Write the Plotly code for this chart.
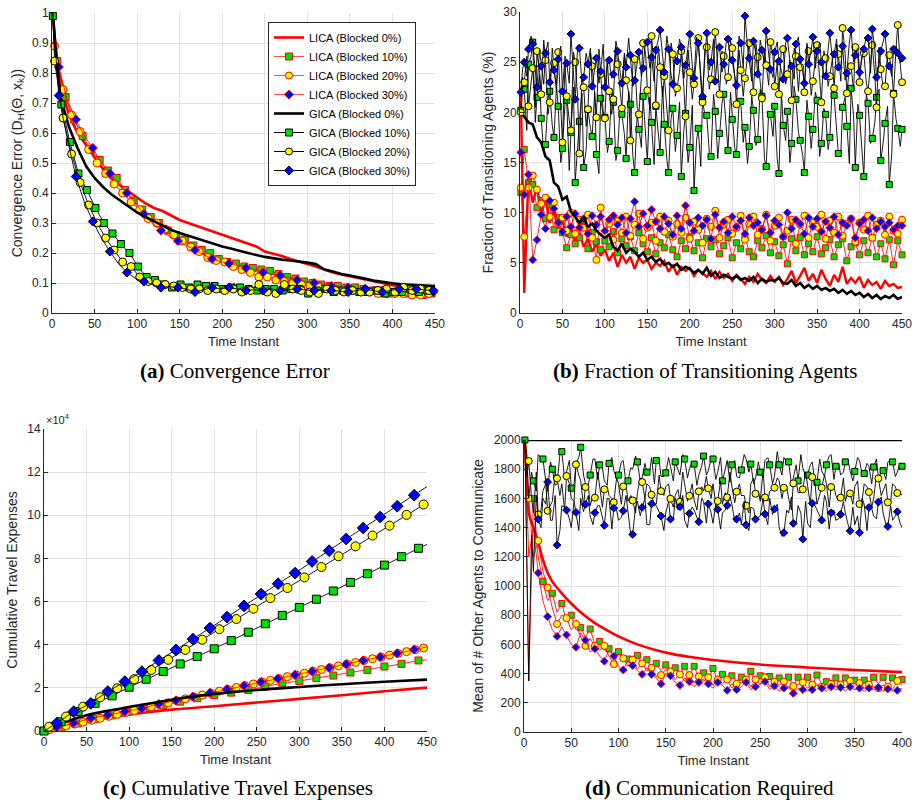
import plotly.graph_objects as go

# =================== DATA ===================
LEGEND_NAMES = ["LICA (Blocked 0%)", "LICA (Blocked 10%)", "LICA (Blocked 20%)", "LICA (Blocked 30%)",
                "GICA (Blocked 0%)", "GICA (Blocked 10%)", "GICA (Blocked 20%)", "GICA (Blocked 30%)"]

# ---- (a) Convergence Error ----
T_A_SMOOTH = [1, 5] + list(range(10, 451, 10))
A_LICA0 = [1.0, 0.85, 0.76, 0.66, 0.60, 0.56, 0.52, 0.48, 0.45, 0.425, 0.405, 0.385, 0.365, 0.35, 0.34,
           0.325, 0.31, 0.30, 0.29, 0.28, 0.27, 0.26, 0.25, 0.24, 0.232, 0.222, 0.205, 0.198, 0.19, 0.18,
           0.172, 0.165, 0.155, 0.145, 0.135, 0.128, 0.122, 0.116, 0.11, 0.103, 0.097, 0.092, 0.087,
           0.083, 0.082, 0.08, 0.08]
A_GICA0 = [1.0, 0.85, 0.72, 0.62, 0.55, 0.49, 0.45, 0.42, 0.395, 0.375, 0.355, 0.335, 0.32, 0.305, 0.29,
           0.277, 0.267, 0.258, 0.25, 0.24, 0.23, 0.222, 0.215, 0.207, 0.2, 0.193, 0.187, 0.182, 0.178,
           0.175, 0.172, 0.168, 0.163, 0.145, 0.138, 0.13, 0.125, 0.12, 0.113, 0.107, 0.102, 0.099,
           0.096, 0.095, 0.094, 0.093, 0.09]
T_A_G10 = list(range(1, 442, 10)) + [450]
A_GICA10 = [0.99, 0.695, 0.57, 0.465, 0.41, 0.35, 0.30, 0.265, 0.23, 0.20, 0.155, 0.12, 0.11, 0.095, 0.085,
            0.095, 0.085, 0.095, 0.09, 0.09, 0.08, 0.085, 0.085, 0.08, 0.075, 0.08, 0.08, 0.075, 0.08, 0.08,
            0.065, 0.075, 0.08, 0.07, 0.075, 0.075, 0.07, 0.07, 0.075, 0.065, 0.07, 0.07, 0.08, 0.07, 0.075,
            0.075]
T_A_G20 = [1] + list(range(3, 444, 10)) + [450]
A_GICA20 = [1.0, 0.84, 0.65, 0.53, 0.435, 0.36, 0.30, 0.25, 0.21, 0.17, 0.155, 0.12, 0.105, 0.10, 0.095,
            0.09, 0.085, 0.08, 0.08, 0.075, 0.08, 0.075, 0.08, 0.07, 0.075, 0.095, 0.07, 0.065, 0.095, 0.08,
            0.075, 0.07, 0.065, 0.08, 0.075, 0.07, 0.075, 0.07, 0.07, 0.075, 0.08, 0.07, 0.085, 0.075, 0.08,
            0.075, 0.075]
T_A_G30 = [1] + list(range(8, 449, 10))
A_GICA30 = [1.0, 0.725, 0.58, 0.455, 0.37, 0.305, 0.25, 0.205, 0.165, 0.135, 0.115, 0.105, 0.095, 0.085,
            0.088, 0.085, 0.08, 0.07, 0.078, 0.085, 0.08, 0.085, 0.08, 0.075, 0.078, 0.075, 0.08, 0.075,
            0.078, 0.08, 0.077, 0.075, 0.076, 0.075, 0.073, 0.07, 0.075, 0.08, 0.074, 0.07, 0.075, 0.08,
            0.077, 0.08, 0.077, 0.075]
T_A_L10 = [1] + list(range(6, 447, 10)) + [450]
A_LICA10 = [1.0, 0.84, 0.72, 0.645, 0.59, 0.545, 0.51, 0.475, 0.45, 0.41, 0.375, 0.345, 0.32, 0.30, 0.275,
            0.26, 0.245, 0.225, 0.21, 0.2, 0.18, 0.17, 0.165, 0.155, 0.15, 0.145, 0.14, 0.13, 0.12, 0.115,
            0.105, 0.10, 0.095, 0.09, 0.09, 0.085, 0.085, 0.08, 0.075, 0.075, 0.065, 0.07, 0.065, 0.065,
            0.06, 0.065, 0.065]
T_A_L20 = [1] + list(range(3, 444, 10)) + [450]
A_LICA20 = [1.0, 0.89, 0.745, 0.66, 0.605, 0.545, 0.50, 0.465, 0.43, 0.40, 0.37, 0.345, 0.315, 0.30, 0.28,
            0.26, 0.24, 0.22, 0.205, 0.185, 0.175, 0.17, 0.155, 0.145, 0.135, 0.12, 0.12, 0.11, 0.105, 0.10,
            0.095, 0.09, 0.09, 0.085, 0.08, 0.08, 0.075, 0.07, 0.07, 0.065, 0.065, 0.065, 0.065, 0.06, 0.06,
            0.065, 0.07]
T_A_L30 = [1] + list(range(8, 449, 10))
A_LICA30 = [1.0, 0.82, 0.71, 0.645, 0.59, 0.55, 0.50, 0.465, 0.43, 0.40, 0.365, 0.33, 0.30, 0.275, 0.255,
            0.24, 0.225, 0.21, 0.195, 0.18, 0.172, 0.165, 0.157, 0.15, 0.142, 0.135, 0.13, 0.125, 0.117,
            0.11, 0.105, 0.10, 0.095, 0.09, 0.087, 0.085, 0.082, 0.08, 0.077, 0.075, 0.075, 0.075, 0.072,
            0.07, 0.07, 0.07]

# ---- (b) Fraction of Transitioning Agents (%) ----
T_B = [1] + list(range(5, 451, 5))          # sampled instants (markers)
T_B_MID = list(range(3, 451, 5))            # in-between instants (line only)
B_LICA0 = [22.0, 2.0, 13.5, 11.0, 12.6, 9.8, 11.4, 9.0, 10.2, 8.4,
           9.3, 7.6, 8.5, 7.2, 8.0, 6.6, 7.4, 6.1, 6.9, 5.7,
           6.3, 5.2, 6.0, 4.6, 5.8, 5.0, 5.6, 4.4, 5.5, 5.0,
           5.3, 4.4, 5.0, 4.7, 5.2, 4.1, 4.8, 3.8, 4.6, 4.2,
           4.5, 3.7, 4.3, 4.0, 3.6, 4.2, 3.4, 4.1, 3.5, 3.9,
           3.2, 3.8, 3.4, 2.9, 3.6, 3.1, 3.9, 3.3, 3.0, 3.7,
           3.1, 3.6, 2.8, 3.4, 4.2, 3.0, 3.7, 4.5, 3.2, 3.9,
           3.0, 4.3, 3.4, 2.7, 3.8, 3.1, 4.6, 2.9, 3.5, 3.0,
           3.6, 2.5, 3.3, 2.8, 3.1, 2.4, 3.2, 2.7, 2.9, 2.5,
           2.6]
B_LICA10 = [12.0, 16.3, 13.0, 12.8, 10.5, 11.2, 9.4, 10.8, 8.3, 9.5,
            8.0, 6.5, 7.8, 6.9, 7.5, 9.2, 6.4, 8.0, 7.1, 6.3,
            7.2, 6.6, 8.1, 6.0, 7.4, 6.7, 7.6, 6.2, 8.0, 6.9,
            6.1, 7.5, 5.9, 7.0, 6.5, 7.8, 6.3, 5.6, 7.2, 6.4,
            7.6, 6.2, 7.0, 5.5, 7.4, 6.6, 7.3, 5.9, 6.7, 7.5,
            5.5, 7.0, 6.4, 7.6, 6.1, 5.6, 7.2, 6.5, 7.7, 6.0,
            7.1, 5.7, 6.8, 4.9, 7.4, 6.2, 7.5, 5.8, 6.9, 6.1,
            7.6, 5.9, 6.5, 7.3, 5.6, 6.8, 7.4, 5.2, 6.6, 7.0,
            5.8, 7.2, 6.0, 7.5, 5.6, 6.9, 5.4, 7.3, 4.8, 7.2,
            5.8]
B_LICA20 = [12.5, 7.6, 12.5, 13.7, 12.3, 10.9, 11.5, 9.6, 11.0, 8.9,
            9.5, 8.2, 10.0, 7.9, 9.3, 8.5, 9.8, 7.5, 5.3, 10.5,
            7.8, 8.9, 7.3, 9.2, 8.0, 9.6, 7.7, 8.8, 9.9, 7.4,
            8.5, 9.0, 7.2, 9.6, 8.1, 9.2, 7.6, 8.9, 8.0, 9.5,
            7.4, 9.1, 8.3, 7.0, 9.4, 8.6, 10.2, 7.5, 8.8, 9.3,
            7.9, 8.5, 9.7, 7.3, 8.9, 9.6, 7.8, 8.4, 9.8, 7.2,
            8.7, 9.5, 7.6, 8.2, 9.3, 6.9, 8.8, 9.7, 7.5, 9.0,
            8.6, 9.8, 7.4, 9.2, 8.0, 9.6, 7.7, 8.9, 9.4, 7.1,
            9.0, 8.3, 9.7, 7.5, 8.8, 9.2, 7.8, 9.6, 8.2, 7.9,
            9.3]
B_LICA30 = [16.0, 11.8, 13.8, 5.3, 7.3, 9.8, 8.4, 11.2, 10.4, 9.0,
            8.1, 9.6, 8.6, 9.9, 8.5, 9.4, 7.9, 9.7, 8.8, 9.6,
            8.2, 9.3, 9.7, 8.8, 9.5, 8.0, 9.4, 11.1, 8.6, 9.9,
            8.7, 10.3, 9.1, 8.4, 9.6, 8.9, 7.8, 9.7, 8.4, 10.7,
            9.0, 8.2, 9.5, 8.7, 9.3, 7.4, 9.8, 8.5, 9.1, 8.0,
            9.6, 8.6, 9.2, 7.9, 9.5, 8.7, 9.0, 8.3, 9.7, 8.0,
            9.2, 8.8, 7.6, 10.0, 8.4, 9.3, 8.9, 7.9, 9.5, 8.6,
            9.4, 8.1, 9.1, 8.5, 9.6, 7.8, 9.0, 8.7, 9.4, 7.5,
            8.9, 9.3, 8.2, 9.5, 8.4, 9.1, 8.6, 9.0, 8.3, 8.7,
            8.7]
B_GICA0 = [20.0, 19.5, 19.0, 18.8, 17.5, 17.0, 15.6, 15.2, 13.0, 12.6,
           11.3, 11.6, 10.1, 9.6, 9.0, 9.5, 8.6, 8.9, 8.2, 7.8,
           7.5, 7.8, 6.6, 6.2, 6.9, 6.0, 6.4, 6.1, 5.6, 6.0,
           5.3, 5.6, 5.1, 5.4, 4.8, 5.0, 4.6, 4.9, 4.3, 4.6,
           4.4, 4.0, 4.3, 3.9, 4.5, 3.7, 4.1, 3.5, 3.8, 3.6,
           3.4, 3.7, 3.3, 3.5, 3.2, 3.6, 3.0, 3.4, 3.1, 3.3,
           3.2, 3.5, 3.0, 2.9, 3.3, 2.7, 3.0, 2.5, 2.8, 2.4,
           2.7, 2.3, 2.5, 2.2, 2.4, 2.0, 2.3, 1.9, 2.2, 1.8,
           2.0, 1.6, 1.9, 1.5, 1.8, 1.4, 1.7, 1.5, 1.8, 1.4,
           1.6]
B_GICA10 = [20.2, 22.3, 24.8, 27.0, 21.5, 19.4, 16.8, 22.1, 17.5, 20.6,
            16.4, 21.2, 18.0, 13.0, 19.1, 14.5, 20.3, 17.6, 15.8, 21.4,
            19.5, 17.1, 21.0, 16.2, 19.8, 15.4, 20.8, 14.0, 18.3, 21.6,
            15.1, 19.0, 20.6, 16.0, 18.8, 14.0, 20.4, 17.7, 13.6, 19.9,
            16.5, 12.2, 18.4, 21.3, 19.7, 15.6, 20.1, 17.9, 21.8, 16.2,
            19.3, 15.8, 21.1, 18.5, 16.6, 20.2, 17.3, 21.6, 14.6, 19.8,
            20.6, 13.9, 18.7, 20.1, 16.9, 21.3, 17.2, 14.0, 19.6, 18.3,
            21.2, 16.9, 19.8, 17.5, 21.7, 15.9, 20.5, 18.6, 22.4, 14.5,
            19.7, 13.6, 20.9, 17.4, 21.5, 15.2, 18.9, 12.8, 21.9, 18.4,
            18.3]
B_GICA10_MID = [23.5, 18.2, 25.6, 19.0, 23.8, 15.9, 21.4, 18.7, 22.6, 15.0,
                20.8, 14.2, 22.5, 17.0, 21.9, 16.3, 18.4, 22.0, 13.9, 19.6,
                16.0, 22.4, 15.2, 20.6, 17.8, 22.1, 15.6, 19.8, 16.5, 17.3,
                21.5, 14.8, 18.0, 22.6, 15.3, 19.4, 16.1, 21.0, 18.2, 15.0,
                20.7, 17.2, 14.6, 19.5, 16.0, 21.8, 15.4, 20.9, 18.1, 22.0,
                16.4, 20.8, 17.0, 14.9, 21.6, 16.7, 22.3, 15.3, 20.1, 17.6,
                15.4, 21.9, 17.2, 15.0, 22.6, 18.0, 15.7, 21.2, 16.4, 22.0,
                15.6, 20.4, 16.3, 22.8, 18.4, 16.0, 21.5, 14.9, 19.6, 20.8,
                15.3, 21.8, 16.9, 19.0, 22.3, 17.1, 20.6, 15.9, 19.3, 16.6]
B_GICA20 = [20.0, 23.0, 20.6, 24.4, 26.1, 21.8, 25.2, 21.0, 24.9, 26.0,
            17.0, 21.6, 18.2, 25.0, 15.9, 22.5, 20.3, 24.6, 19.5, 23.8,
            19.4, 22.1, 21.3, 24.8, 20.4, 23.2, 17.2, 25.3, 19.8, 26.9,
            22.2, 27.6, 20.7, 24.5, 23.6, 18.2, 25.8, 22.4, 26.1, 19.6,
            24.0, 22.8, 27.4, 21.0, 26.5, 23.3, 28.0, 21.8, 25.6, 23.5,
            26.4, 20.8, 24.2, 23.4, 26.9, 22.0, 25.5, 21.4, 24.7, 27.0,
            22.6, 21.8, 26.3, 23.8, 21.2, 25.6, 24.5, 22.0, 26.1, 23.1,
            26.7, 21.0, 25.4, 23.6, 22.4, 25.8, 28.4, 21.9, 24.6, 26.5,
            23.0, 25.9, 22.1, 26.7, 20.5, 24.3, 22.6, 25.7, 21.8, 28.7,
            23.0]
B_GICA20_MID = [22.4, 25.6, 23.1, 20.5, 24.0, 27.2, 19.8, 26.4, 22.0, 20.9,
                24.8, 19.2, 26.0, 21.4, 23.7, 18.6, 25.9, 21.8, 26.3, 20.1,
                25.1, 19.8, 26.5, 21.6, 25.7, 22.0, 24.9, 20.6, 23.5, 25.8,
                20.3, 24.4, 26.6, 21.5, 19.8, 26.9, 21.6, 24.1, 22.5, 26.2,
                21.3, 25.9, 23.0, 26.8, 22.3, 25.4, 24.6, 26.1, 22.8, 27.1,
                23.5, 26.2, 21.6, 25.7, 24.1, 26.8, 23.0, 26.3, 22.7, 25.6,
                24.9, 26.6, 22.8, 25.2, 26.4, 22.1, 24.7, 26.9, 21.7, 25.0,
                23.4, 26.1, 22.6, 25.3, 26.8, 23.1, 25.9, 24.4, 22.2, 25.5,
                26.2, 22.9, 25.0, 23.6, 26.5, 22.3, 25.8, 24.0, 26.4, 24.7]
B_GICA30 = [22.0, 25.0, 26.3, 26.8, 22.5, 24.6, 25.9, 23.0, 24.2, 25.3,
            22.1, 24.9, 27.8, 21.3, 26.4, 23.5, 24.8, 22.6, 25.4, 24.1,
            22.5, 25.2, 23.8, 26.1, 22.9, 24.5, 25.7, 23.2, 26.0, 24.4,
            27.0, 25.5, 26.2, 28.2, 24.0, 26.3, 22.8, 25.1, 26.5, 24.7,
            27.8, 23.4, 26.9, 21.6, 27.9, 25.0, 23.1, 26.5, 24.8, 27.3,
            25.2, 22.7, 26.9, 29.6, 25.4, 27.1, 23.8, 26.2, 28.1, 24.3,
            26.0, 25.1, 23.3, 27.4, 24.6, 26.8, 25.3, 22.9, 24.8, 27.5,
            26.1, 25.0, 23.6, 27.9, 25.8, 24.5, 26.6, 23.9, 28.2, 25.7,
            24.0, 26.3, 27.4, 28.3, 23.5, 26.1, 27.8, 24.6, 26.3, 25.9,
            25.4]
B_GICA30_MID = [24.3, 23.6, 27.6, 24.0, 26.2, 22.8, 27.0, 25.1, 22.7, 26.6,
                25.6, 22.9, 24.2, 26.7, 23.0, 25.9, 26.4, 24.3, 22.9, 26.8,
                25.3, 23.4, 27.1, 24.0, 25.9, 27.4, 22.6, 25.0, 23.6, 27.2,
                24.4, 23.1, 27.3, 25.6, 27.6, 23.7, 25.6, 27.3, 23.4, 26.9,
                24.6, 27.5, 23.8, 25.8, 24.2, 27.3, 26.0, 24.0, 27.0, 25.1,
                23.6, 27.6, 24.5, 26.6, 23.1, 25.8, 27.2, 24.9, 26.0, 23.5,
                27.0, 24.1, 26.9, 25.0, 23.3, 27.5, 24.2, 26.6, 26.2, 24.4,
                26.9, 23.8, 26.3, 25.2, 27.3, 24.7, 23.2, 27.0, 25.0, 26.4,
                25.4, 27.6, 23.9, 26.3, 24.7, 27.2, 25.0, 23.6, 26.6, 24.9]

# ---- (c) Cumulative Travel Expenses (in units of 10^4) ----
T_C_SMOOTH = [0, 25, 50, 75, 100, 150, 200, 250, 300, 350, 400, 450]
C_LICA0 = [0, 0.23, 0.42, 0.61, 0.77, 0.99, 1.15, 1.32, 1.49, 1.66, 1.84, 2.01]
C_GICA0 = [0, 0.42, 0.73, 0.94, 1.11, 1.45, 1.72, 1.9, 2.04, 2.17, 2.28, 2.38]
T_C_G10 = list(range(0, 441, 20)) + [450]
C_GICA10 = [0, 0.43, 0.9, 1.28, 1.63, 2.03, 2.4, 2.76, 3.11, 3.45, 3.81, 4.19, 4.58, 4.97, 5.36, 5.73,
            6.11, 6.49, 6.89, 7.29, 7.69, 8.08, 8.47, 8.65]
T_C_G20 = [0] + list(range(6, 447, 20)) + [450]
C_GICA20 = [0, 0.2, 0.67, 1.13, 1.56, 1.98, 2.4, 2.83, 3.3, 3.76, 4.23, 4.72, 5.19, 5.67, 6.16, 6.63,
            7.12, 7.6, 8.1, 8.56, 9.06, 9.52, 10.02, 10.5, 10.58]
T_C_G30 = [0] + list(range(15, 436, 20)) + [450]
C_GICA30 = [0, 0.36, 0.9, 1.28, 1.83, 2.29, 2.75, 3.27, 3.76, 4.26, 4.77, 5.28, 5.8, 6.35, 6.83, 7.32,
            7.86, 8.36, 8.9, 9.41, 9.92, 10.42, 10.93, 11.33]
T_C_L10 = list(range(0, 441, 20)) + [450]
C_LICA10 = [0, 0.15, 0.35, 0.55, 0.72, 0.9, 1.07, 1.21, 1.36, 1.52, 1.67, 1.78, 1.9, 2.06, 2.21, 2.32,
            2.45, 2.57, 2.71, 2.83, 2.99, 3.11, 3.27, 3.3]
T_C_L20 = [0] + list(range(6, 447, 10)) + [450]
C_LICA20 = [0, 0.06, 0.15, 0.24, 0.32, 0.41, 0.5, 0.59, 0.68, 0.77, 0.86, 0.95, 1.04, 1.13, 1.22, 1.31,
            1.4, 1.49, 1.58, 1.67, 1.76, 1.85, 1.93, 2.02, 2.1, 2.18, 2.27, 2.35, 2.43, 2.52, 2.6, 2.68,
            2.77, 2.85, 2.93, 3.02, 3.1, 3.18, 3.27, 3.35, 3.43, 3.52, 3.6, 3.68, 3.77, 3.85, 3.88]
T_C_L30 = [0] + list(range(15, 436, 20)) + [450]
C_LICA30 = [0, 0.17, 0.36, 0.59, 0.74, 0.9, 1.05, 1.25, 1.42, 1.6, 1.77, 1.94, 2.1, 2.27, 2.43, 2.6,
            2.77, 2.93, 3.1, 3.27, 3.43, 3.6, 3.78, 3.9]

# ---- (d) Mean of # Other Agents to Communicate ----
T_D0 = [0, 400]
D_GICA0 = [2000, 2000]
T_D_L0 = [1, 3, 5, 10, 15, 20, 25, 30, 40, 50, 60, 75, 90, 100, 120, 140, 160, 180, 200, 250, 300, 350, 400]
D_LICA0 = [2000, 1700, 1500, 1400, 1300, 1180, 1090, 1030, 950, 880, 820, 746, 690, 655, 600, 560, 530,
           510, 493, 462, 442, 425, 410]
T_D = [1] + list(range(5, 401, 5))
T_D_MID = list(range(3, 401, 5))
D_GICA10 = [2000, 1600, 1720, 1900, 1870, 1650, 1800, 1700, 1920, 1780,
            1670, 1840, 1950, 1700, 1760, 1870, 1830, 1720, 1840, 1790,
            1760, 1860, 1720, 1800, 1850, 1740, 1780, 1880, 1860, 1750,
            1775, 1820, 1850, 1760, 1870, 1800, 1835, 1760, 1890, 1790,
            1870, 1780, 1720, 1860, 1830, 1750, 1795, 1870, 1835, 1740,
            1780, 1860, 1830, 1750, 1830, 1880, 1850, 1740, 1720, 1810,
            1760, 1850, 1710, 1790, 1830, 1900, 1820, 1760, 1850, 1790,
            1785, 1860, 1770, 1820, 1815, 1740, 1790, 1850, 1850, 1780,
            1820]
D_GICA10_MID = [1900, 1780, 1650, 1880, 1720, 1850, 1690, 1900, 1730, 1860,
                1700, 1880, 1760, 1690, 1870, 1730, 1810, 1690, 1880, 1740,
                1850, 1700, 1810, 1890, 1720, 1840, 1780, 1700, 1860, 1750,
                1880, 1720, 1800, 1900, 1740, 1850, 1690, 1820, 1760, 1870,
                1730, 1880, 1800, 1710, 1860, 1740, 1900, 1780, 1700, 1850,
                1740, 1880, 1700, 1920, 1760, 1850, 1700, 1830, 1900, 1750,
                1830, 1700, 1870, 1750, 1890, 1730, 1840, 1780, 1860, 1720,
                1880, 1760, 1840, 1700, 1870, 1780, 1730, 1860, 1750, 1840]
D_GICA20 = [2000, 1856, 1500, 1490, 1650, 1515, 1580, 1737, 1700, 1753,
            1600, 1833, 1720, 1678, 1550, 1605, 1680, 1662, 1620, 1573,
            1700, 1682, 1580, 1586, 1640, 1712, 1700, 1625, 1560, 1650,
            1680, 1598, 1620, 1577, 1700, 1618, 1590, 1648, 1650, 1669,
            1700, 1582, 1560, 1607, 1680, 1646, 1620, 1550, 1700, 1632,
            1580, 1607, 1650, 1673, 1720, 1673, 1600, 1703, 1640, 1662,
            1690, 1746, 1560, 1673, 1700, 1678, 1620, 1605, 1580, 1634,
            1680, 1561, 1700, 1643, 1600, 1737, 1650, 1573, 1700, 1637,
            1620]
D_GICA20_MID = [1750, 1600, 1780, 1520, 1700, 1560, 1780, 1620, 1520, 1700,
                1580, 1760, 1550, 1700, 1620, 1780, 1540, 1680, 1600, 1740,
                1560, 1700, 1620, 1500, 1740, 1600, 1680, 1550, 1760, 1620,
                1700, 1540, 1660, 1780, 1580, 1700, 1520, 1680, 1750, 1600,
                1560, 1720, 1640, 1780, 1570, 1700, 1620, 1500, 1740, 1650,
                1790, 1580, 1660, 1740, 1600, 1680, 1520, 1720, 1640, 1780,
                1560, 1700, 1620, 1760, 1540, 1680, 1590, 1740, 1650, 1560,
                1720, 1600, 1680, 1540, 1760, 1620, 1700, 1580, 1680, 1640]
D_GICA30 = [2000, 350, 1100, 1458, 1600, 1712, 1450, 1280, 1550, 1520,
            1400, 1504, 1600, 1559, 1480, 1502, 1550, 1415, 1600, 1534,
            1450, 1515, 1500, 1353, 1580, 1538, 1420, 1563, 1550, 1479,
            1500, 1458, 1600, 1543, 1450, 1497, 1520, 1440, 1580, 1563,
            1430, 1525, 1500, 1552, 1560, 1458, 1420, 1419, 1540, 1458,
            1480, 1493, 1600, 1527, 1400, 1365, 1500, 1429, 1550, 1321,
            1430, 1566, 1520, 1451, 1580, 1502, 1450, 1490, 1500, 1378,
            1420, 1365, 1560, 1538, 1480, 1575, 1500, 1408, 1450, 1509,
            1400]
D_GICA30_MID = [1200, 1350, 1620, 1400, 1560, 1450, 1620, 1380, 1540, 1460,
                1580, 1380, 1510, 1620, 1420, 1550, 1460, 1600, 1390, 1520,
                1470, 1620, 1350, 1540, 1480, 1600, 1420, 1560, 1500, 1380,
                1580, 1450, 1520, 1620, 1400, 1540, 1470, 1600, 1430, 1500,
                1560, 1390, 1520, 1610, 1440, 1500, 1580, 1380, 1530, 1470,
                1600, 1420, 1490, 1560, 1340, 1520, 1610, 1430, 1500, 1580,
                1400, 1550, 1480, 1620, 1390, 1520, 1460, 1580, 1420, 1540,
                1480, 1600, 1380, 1530, 1460, 1610, 1420, 1550, 1480, 1430]
D_LICA10 = [2000, 350, 1600, 1200, 1030, 900, 950, 820, 880, 760,
            800, 700, 715, 650, 705, 600, 620, 560, 570, 520,
            550, 480, 500, 460, 525, 450, 495, 430, 470, 420,
            460, 400, 440, 390, 450, 380, 450, 370, 405, 360,
            435, 350, 395, 340, 385, 350, 375, 330, 415, 340,
            385, 330, 380, 320, 370, 340, 375, 310, 375, 330,
            375, 320, 390, 330, 345, 310, 370, 320, 370, 330,
            355, 310, 355, 320, 375, 330, 375, 310, 370, 330,
            360]
D_LICA20 = [2000, 1600, 1200, 1310, 1100, 990, 850, 740, 800, 780,
            700, 740, 650, 590, 640, 590, 560, 590, 520, 465,
            540, 505, 450, 495, 430, 470, 420, 440, 380, 390,
            430, 415, 360, 395, 350, 390, 340, 380, 350, 375,
            320, 360, 330, 360, 300, 330, 340, 360, 310, 360,
            330, 375, 310, 345, 320, 345, 300, 315, 330, 340,
            300, 325, 330, 310, 300, 330, 310, 325, 300, 350,
            320, 335, 300, 325, 310, 300, 320, 310, 290, 350,
            320]
D_LICA30 = [2000, 1200, 1400, 1090, 900, 790, 700, 655, 720, 665,
            600, 580, 680, 630, 550, 570, 520, 485, 560, 520,
            450, 425, 490, 455, 420, 395, 440, 395, 370, 330,
            400, 385, 340, 320, 370, 345, 310, 340, 360, 330,
            300, 340, 320, 285, 330, 290, 310, 340, 290, 310,
            330, 345, 290, 315, 280, 300, 310, 265, 300, 290,
            280, 290, 320, 300, 280, 310, 290, 305, 280, 310,
            290, 300, 280, 300, 290, 305, 280, 295, 280, 285,
            300]

# tick labels
A_YTICKS = [0, 0.1, 0.2, 0.3, 0.4, 0.5, 0.6, 0.7, 0.8, 0.9, 1]
C_YTICKS = [0, 2, 4, 6, 8, 10, 12, 14]

# =================== STYLE ===================
RED = "#ff0000"
GREEN = "#00e000"
YELLOW = "#ffff00"
BLUE = "#0000ff"
BLACK = "#000000"
AX = "#262626"
FONT = "Liberation Sans"

W, H = 917, 804


def dom_x(p0, p1):
    return [p0 / W, p1 / W]


def dom_y(top, bottom):
    return [1 - bottom / H, 1 - top / H]


def merged(xa, ya, xb, yb):
    pts = sorted(zip(list(xa) + list(xb), list(ya) + list(yb)))
    return [p[0] for p in pts], [p[1] for p in pts]


fig = go.Figure()

STYLE = {
    "LICA0": dict(kind="thick", color=RED),
    "LICA10": dict(kind="lica", fill=GREEN, symbol="square"),
    "LICA20": dict(kind="lica", fill=YELLOW, symbol="circle"),
    "LICA30": dict(kind="lica", fill=BLUE, symbol="diamond"),
    "GICA0": dict(kind="thick", color=BLACK),
    "GICA10": dict(kind="gica", fill=GREEN, symbol="square"),
    "GICA20": dict(kind="gica", fill=YELLOW, symbol="circle"),
    "GICA30": dict(kind="gica", fill=BLUE, symbol="diamond"),
}


def add_series(key, x, y, xa, ya, msl=None, msize=7, lw_thick=2.6, shape="linear", extra=None):
    st = STYLE[key]
    if st["kind"] == "thick":
        fig.add_trace(go.Scatter(x=x, y=y, mode="lines", line=dict(color=st["color"], width=lw_thick, shape=shape),
                                 xaxis=xa, yaxis=ya, showlegend=False, hoverinfo="skip"))
        return
    if st["kind"] == "lica":
        lcol, lw, edge = "rgba(255,0,0,0.85)", 1.0, RED
    else:
        lcol, lw, edge = BLACK, 0.9, BLACK
    lx, ly = (x, y) if extra is None else merged(x, y, extra[0], extra[1])
    fig.add_trace(go.Scatter(x=lx, y=ly, mode="lines", line=dict(color=lcol, width=lw),
                             xaxis=xa, yaxis=ya, showlegend=False, hoverinfo="skip"))
    if msl is None:
        msl = slice(None)
    size = msize + (1 if st["symbol"] == "circle" else 0)
    fig.add_trace(go.Scatter(x=x[msl], y=y[msl], mode="markers", cliponaxis=False,
                             marker=dict(symbol=st["symbol"], size=size, color=st["fill"],
                                         line=dict(color=edge, width=1)),
                             xaxis=xa, yaxis=ya, showlegend=False, hoverinfo="skip"))


# ---- panel (a)
add_series("LICA0", T_A_SMOOTH, A_LICA0, "x", "y")
add_series("LICA10", T_A_L10, A_LICA10, "x", "y", slice(1, 46))
add_series("LICA20", T_A_L20, A_LICA20, "x", "y", slice(1, 46))
add_series("LICA30", T_A_L30, A_LICA30, "x", "y", slice(1, None, 2))
add_series("GICA0", T_A_SMOOTH, A_GICA0, "x", "y")
add_series("GICA10", T_A_G10, A_GICA10, "x", "y", slice(0, 45))
add_series("GICA20", T_A_G20, A_GICA20, "x", "y", slice(1, 46))
add_series("GICA30", T_A_G30, A_GICA30, "x", "y", slice(1, None, 2))

# ---- panel (b)
add_series("LICA0", T_B, B_LICA0, "x2", "y2", lw_thick=2.4)
add_series("LICA10", T_B, B_LICA10, "x2", "y2", msize=6)
add_series("LICA20", T_B, B_LICA20, "x2", "y2", msize=6)
add_series("LICA30", T_B, B_LICA30, "x2", "y2", msize=6)
add_series("GICA0", T_B, B_GICA0, "x2", "y2", lw_thick=2.6)
add_series("GICA10", T_B, B_GICA10, "x2", "y2", msize=6, extra=(T_B_MID, B_GICA10_MID))
add_series("GICA20", T_B, B_GICA20, "x2", "y2", msize=6, extra=(T_B_MID, B_GICA20_MID))
add_series("GICA30", T_B, B_GICA30, "x2", "y2", msize=6, extra=(T_B_MID, B_GICA30_MID))

# ---- panel (c)
add_series("LICA0", T_C_SMOOTH, C_LICA0, "x3", "y3", shape="spline")
add_series("LICA10", T_C_L10, C_LICA10, "x3", "y3", slice(0, 23), msize=7)
add_series("LICA20", T_C_L20, C_LICA20, "x3", "y3", slice(1, 46), msize=7)
add_series("LICA30", T_C_L30, C_LICA30, "x3", "y3", slice(1, 23), msize=7)
add_series("GICA0", T_C_SMOOTH, C_GICA0, "x3", "y3", shape="spline")
add_series("GICA10", T_C_G10, C_GICA10, "x3", "y3", slice(0, 23), msize=8)
add_series("GICA20", T_C_G20, C_GICA20, "x3", "y3", slice(1, 24), msize=8)
add_series("GICA30", T_C_G30, C_GICA30, "x3", "y3", slice(1, 23), msize=9)

# ---- panel (d)
add_series("LICA0", T_D_L0, D_LICA0, "x4", "y4", shape="spline")
add_series("LICA10", T_D, D_LICA10, "x4", "y4", slice(2, None, 2), msize=6)
add_series("LICA20", T_D, D_LICA20, "x4", "y4", slice(1, None, 2), msize=6)
add_series("LICA30", T_D, D_LICA30, "x4", "y4", slice(3, None, 2), msize=6)
add_series("GICA0", T_D0, D_GICA0, "x4", "y4")
add_series("GICA10", T_D, D_GICA10, "x4", "y4", slice(0, None, 2), msize=6, extra=(T_D_MID, D_GICA10_MID))
add_series("GICA20", T_D, D_GICA20, "x4", "y4", slice(1, None, 2), msize=6, extra=(T_D_MID, D_GICA20_MID))
add_series("GICA30", T_D, D_GICA30, "x4", "y4", slice(3, None, 2), msize=6, extra=(T_D_MID, D_GICA30_MID))

# ---- legend entries (panel a)
for key, name in zip(["LICA0", "LICA10", "LICA20", "LICA30", "GICA0", "GICA10", "GICA20", "GICA30"], LEGEND_NAMES):
    st = STYLE[key]
    if st["kind"] == "thick":
        fig.add_trace(go.Scatter(x=[None], y=[None], mode="lines", name=name,
                                 line=dict(color=st["color"], width=2.6), xaxis="x", yaxis="y"))
    else:
        lcol = "rgba(255,80,80,1)" if st["kind"] == "lica" else BLACK
        edge = RED if st["kind"] == "lica" else BLACK
        fig.add_trace(go.Scatter(x=[None], y=[None], mode="lines+markers", name=name,
                                 line=dict(color=lcol, width=1),
                                 marker=dict(symbol=st["symbol"], size=7, color=st["fill"],
                                             line=dict(color=edge, width=1)),
                                 xaxis="x", yaxis="y"))


def axis(domain, rng, dtick, title, anchor, tickvals=None, ticktext=None, tsize=13, standoff=6):
    d = dict(domain=domain, range=rng, anchor=anchor, automargin=False,
             showgrid=True, gridcolor="#e2e2e2", gridwidth=1,
             zeroline=False, showline=True, linecolor=AX, linewidth=1, mirror=False,
             ticks="inside", ticklen=4, tickcolor=AX,
             tickfont=dict(family=FONT, size=12, color=AX),
             title=dict(text=title, font=dict(family=FONT, size=tsize, color=AX), standoff=standoff))
    if tickvals is not None:
        d["tickmode"] = "array"
        d["tickvals"] = tickvals
        d["ticktext"] = ticktext
    else:
        d["dtick"] = dtick
        d["tick0"] = 0
    return d


fig.update_layout(
    width=W, height=H, margin=dict(l=0, r=0, t=0, b=0),
    paper_bgcolor="white", plot_bgcolor="white",
    font=dict(family=FONT, color=AX),
    showlegend=True,
    legend=dict(x=268 / W, y=1 - 22 / H, xanchor="left", yanchor="top", bgcolor="white",
                bordercolor=AX, borderwidth=1, font=dict(family=FONT, size=11, color="black"),
                tracegroupgap=0),
    xaxis=axis(dom_x(52, 435), [0, 450], 50, "Time Instant", "y"),
    yaxis=axis(dom_y(13, 313), [0, 1], None, "Convergence Error (D<sub>H</sub>(Θ, x<sub>k</sub>))", "x",
               tickvals=A_YTICKS, ticktext=[str(v) for v in A_YTICKS], tsize=14),
    xaxis2=axis(dom_x(520, 902), [0, 450], 50, "Time Instant", "y2"),
    yaxis2=axis(dom_y(12, 313), [0, 30], 5, "Fraction of Transitioning Agents (%)", "x2", tsize=14),
    xaxis3=axis(dom_x(44, 427), [0, 450], 50, "Time Instant", "y3"),
    yaxis3=axis(dom_y(429, 731), [0, 14], None, "Cumulative Travel Expenses", "x3",
                tickvals=C_YTICKS, ticktext=[str(v) for v in C_YTICKS], tsize=14),
    xaxis4=axis(dom_x(524, 902), [0, 400], 50, "Time Instant", "y4"),
    yaxis4=axis(dom_y(440, 732), [0, 2000], 200, "Mean of # Other Agents to Communicate", "x4", tsize=14),
)

# captions & exponent label
CAP_FONT = dict(family="Liberation Serif", size=21, color="black")
captions = [("<b>(a)</b> Convergence Error", 235, 371),
            ("<b>(b)</b> Fraction of Transitioning Agents", 705, 371),
            ("<b>(c)</b> Cumulative Travel Expenses", 238, 788),
            ("<b>(d)</b> Communication Required", 709, 788)]
for txt, cx, cy in captions:
    fig.add_annotation(text=txt, x=cx / W, y=1 - cy / H, xref="paper", yref="paper",
                       xanchor="center", yanchor="middle", showarrow=False, font=CAP_FONT)
fig.add_annotation(text="×10<sup>4</sup>", x=44 / W, y=1 - 428 / H, xref="paper", yref="paper",
                   xanchor="left", yanchor="bottom", showarrow=False,
                   font=dict(family=FONT, size=11, color=AX))

# the page's default 8px body margin would shift the figure; remove it
fig.write_html("out.html", config={"displayModeBar": False},
               post_script="document.body.style.margin='0px';document.body.style.overflow='hidden';")
